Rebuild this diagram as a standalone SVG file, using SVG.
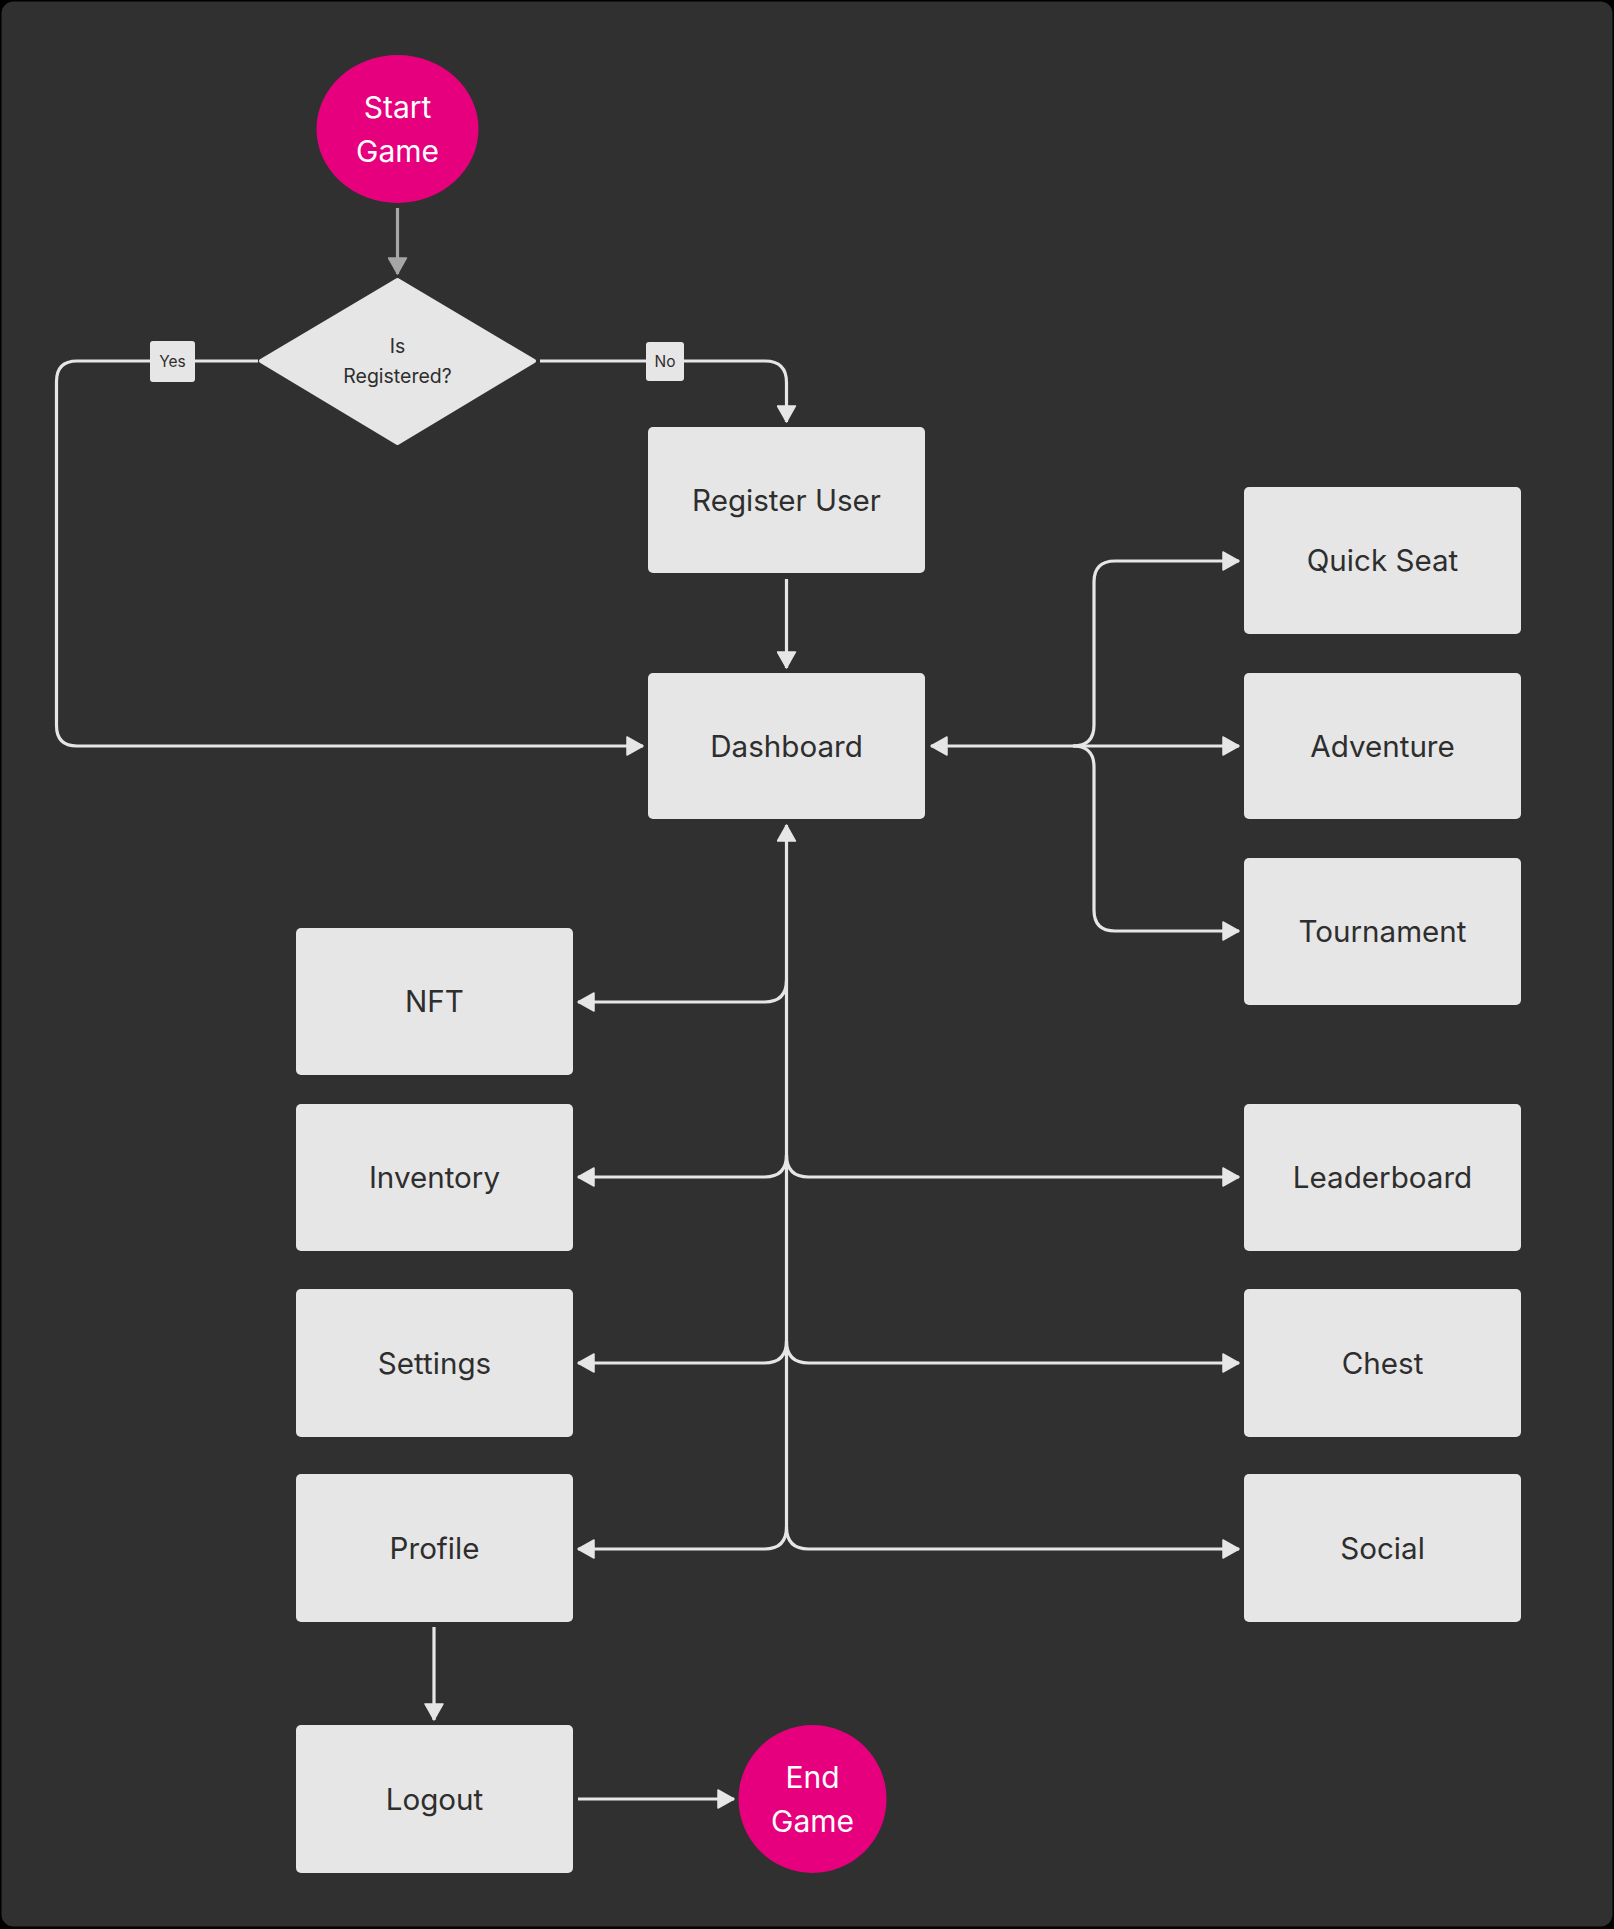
<svg xmlns="http://www.w3.org/2000/svg" width="1614" height="1929" viewBox="0 0 1614 1929">
<style>
.node{fill:#e6e6e6}
.lbl{font-family:Inter,"Noto Sans",sans-serif;font-size:29.6px;fill:#2e2e2e;text-anchor:middle}
.term{fill:#e6007e}
.tlbl{font-family:Inter,"Noto Sans",sans-serif;font-size:30px;fill:#ffffff;text-anchor:middle}
.small{font-family:Inter,"Noto Sans",sans-serif;font-size:19.5px;fill:#2e2e2e;text-anchor:middle}
.tag{font-family:Inter,"Noto Sans",sans-serif;font-size:15.5px;fill:#2e2e2e;text-anchor:middle}
.con{fill:none;stroke:#e6e6e6;stroke-width:3.2}
.arr{marker-end:url(#ah)}
</style>
<defs>
<marker id="ah" viewBox="0 0 18 20" refX="17" refY="10" markerWidth="18" markerHeight="20" markerUnits="userSpaceOnUse" orient="auto-start-reverse">
<path d="M1,1 L17,10 L1,19 Z" fill="#e6e6e6" stroke="#e6e6e6" stroke-width="1.5" stroke-linejoin="round"/>
</marker>
<marker id="ahg" viewBox="0 0 18 20" refX="17" refY="10" markerWidth="18" markerHeight="20" markerUnits="userSpaceOnUse" orient="auto">
<path d="M1,1 L17,10 L1,19 Z" fill="#a6a6a6" stroke="#a6a6a6" stroke-width="1.5" stroke-linejoin="round"/>
</marker>
</defs>
<rect x="0" y="0" width="1614" height="1929" fill="#000"/>
<rect x="1.5" y="1.5" width="1611" height="1925" rx="12" fill="#303030"/>

<g id="connectors">
<path d="M397.5 208 V274" fill="none" stroke="#a6a6a6" stroke-width="3.2" marker-end="url(#ahg)"/>
<path class="con arr" d="M258 361 H77 Q56.5 361 56.5 381.5 V725.5 Q56.5 746 77 746 H643"/>
<path class="con arr" d="M540 361 H765 Q786.5 361 786.5 382.5 V422"/>
<path class="con arr" d="M786.5 579 V668"/>
<path class="con arr" d="M1239 746 H931" marker-start="url(#ah)"/>
<path class="con arr" d="M1073 746 Q1094 746 1094 725 V582 Q1094 561 1115 561 H1239"/>
<path class="con arr" d="M1073 746 Q1094 746 1094 767 V910 Q1094 931 1115 931 H1239"/>
<path class="con arr" d="M786.5 1527 V825"/>
<path class="con arr" d="M786.5 980 Q786.5 1002 764.5 1002 H578"/>
<path class="con arr" d="M786.5 1155 Q786.5 1177 764.5 1177 H578"/>
<path class="con arr" d="M786.5 1155 Q786.5 1177 808.5 1177 H1239"/>
<path class="con arr" d="M786.5 1341 Q786.5 1363 764.5 1363 H578"/>
<path class="con arr" d="M786.5 1341 Q786.5 1363 808.5 1363 H1239"/>
<path class="con arr" d="M786.5 1527 Q786.5 1549 764.5 1549 H578"/>
<path class="con arr" d="M786.5 1527 Q786.5 1549 808.5 1549 H1239"/>
<path class="con arr" d="M434 1627 V1720"/>
<path class="con arr" d="M578 1799 H734"/>
<g id="label-yes"><rect x="150" y="341" width="45" height="41" rx="3" class="node"/><text x="172.5" y="367" class="tag">Yes</text></g>
<g id="label-no"><rect x="646" y="342" width="38" height="39" rx="3" class="node"/><text x="665" y="367" class="tag">No</text></g>
</g>

<g id="start"><ellipse cx="397.5" cy="129" rx="81" ry="74" class="term"/><text x="397.5" y="118" class="tlbl">Start</text><text x="397.5" y="162" class="tlbl">Game</text></g>
<g id="decision"><polygon points="397.5,280 534,361 397.5,443 261,361" class="node" stroke="#e6e6e6" stroke-width="4" stroke-linejoin="round"/><text x="397.5" y="353" class="small">Is</text><text x="397.5" y="383" class="small">Registered?</text></g>
<g id="register"><rect x="648" y="427" width="277" height="146" rx="5" class="node"/><text x="786.5" y="510.5" class="lbl">Register User</text></g>
<g id="dashboard"><rect x="648" y="673" width="277" height="146" rx="5" class="node"/><text x="786.5" y="756.5" class="lbl">Dashboard</text></g>
<g id="quickseat"><rect x="1244" y="487" width="277" height="147" rx="5" class="node"/><text x="1382.5" y="571" class="lbl">Quick Seat</text></g>
<g id="adventure"><rect x="1244" y="673" width="277" height="146" rx="5" class="node"/><text x="1382.5" y="756.5" class="lbl">Adventure</text></g>
<g id="tournament"><rect x="1244" y="858" width="277" height="147" rx="5" class="node"/><text x="1382.5" y="942" class="lbl">Tournament</text></g>
<g id="nft"><rect x="296" y="928" width="277" height="147" rx="5" class="node"/><text x="434.5" y="1012" class="lbl">NFT</text></g>
<g id="inventory"><rect x="296" y="1104" width="277" height="147" rx="5" class="node"/><text x="434.5" y="1188" class="lbl">Inventory</text></g>
<g id="settings"><rect x="296" y="1289" width="277" height="148" rx="5" class="node"/><text x="434.5" y="1373.5" class="lbl">Settings</text></g>
<g id="profile"><rect x="296" y="1474" width="277" height="148" rx="5" class="node"/><text x="434.5" y="1559" class="lbl">Profile</text></g>
<g id="leaderboard"><rect x="1244" y="1104" width="277" height="147" rx="5" class="node"/><text x="1382.5" y="1188" class="lbl">Leaderboard</text></g>
<g id="chest"><rect x="1244" y="1289" width="277" height="148" rx="5" class="node"/><text x="1382.5" y="1373.5" class="lbl">Chest</text></g>
<g id="social"><rect x="1244" y="1474" width="277" height="148" rx="5" class="node"/><text x="1382.5" y="1559" class="lbl">Social</text></g>
<g id="logout"><rect x="296" y="1725" width="277" height="148" rx="5" class="node"/><text x="434.5" y="1809.5" class="lbl">Logout</text></g>
<g id="end"><circle cx="812.5" cy="1799" r="74" class="term"/><text x="812.5" y="1788" class="tlbl">End</text><text x="812.5" y="1832" class="tlbl">Game</text></g>
</svg>
